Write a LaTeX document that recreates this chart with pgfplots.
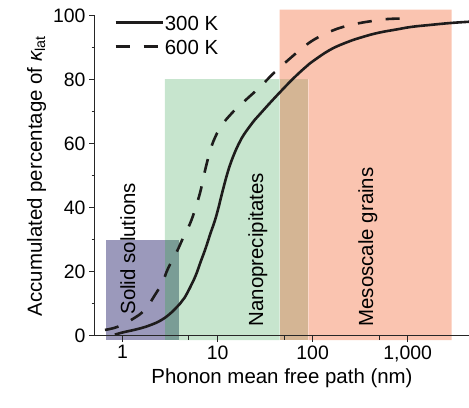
\documentclass[border=0pt]{standalone}
\usepackage{fontspec}
\setmainfont{Liberation Sans}
\usepackage{pgfplots}
\pgfplotsset{compat=1.18}

\definecolor{solidsol}{RGB}{155,153,187}
\definecolor{nanoprec}{RGB}{199,229,206}
\definecolor{mesograin}{RGB}{250,196,176}
\definecolor{solnano}{RGB}{122,157,150}
\definecolor{nanomeso}{RGB}{212,181,148}
\definecolor{curve}{RGB}{30,28,28}

\newcommand{\lblfont}{\fontsize{20.5}{24}\selectfont}
\newcommand{\tickfont}{\fontsize{19.5}{23}\selectfont}

\begin{document}
\begin{tikzpicture}
\path[use as bounding box] (0,0) rectangle (469bp,408bp);
\begin{axis}[
  at={(95bp,72bp)}, anchor=south west,
  scale only axis, width=374bp, height=320bp,
  xmode=log, xmin=0.513, xmax=4420,
  ymin=0, ymax=100,
  axis x line=bottom, axis y line=left,
  axis line style={-, line width=1bp, black!85},
  clip=false, axis on top,
  xtick={1,10,100,1000},
  xticklabels={1,10,100,{1,000}},
  minor xtick={5,50,500},
  ytick={0,20,40,60,80,100},
  minor ytick={10,30,50,70,90},
  tick align=outside,
  major tick length=6bp, minor tick length=3.5bp,
  every tick/.style={line width=1bp, black!85},
  /pgf/number format/assume math mode=true,
  tick label style={font=\tickfont},
  label style={font=\lblfont},
  xlabel={Phonon mean free path (nm)},
  ylabel={Accumulated percentage of {\itshape κ}\textsubscript{lat}},
  legend cell align=left,
  legend style={at={(0.051,1.002)}, anchor=north west, draw=none, fill=none,
    font=\lblfont, inner sep=0pt, row sep=3bp,
    nodes={inner sep=1bp, text height=14bp, text depth=5bp},
    /tikz/every even column/.append style={column sep=3bp}},
  legend image code/.code={\draw[#1] (0bp,0.35em) -- (47bp,0.35em);},
]
% shaded regions of the three scattering mechanisms
\addplot[fill=solidsol, draw=none, forget plot] coordinates {(0.667,-1.25) (2.79,-1.25) (2.79,30) (0.667,30)} -- cycle;
\addplot[fill=nanoprec, draw=none, forget plot] coordinates {(3.94,-1.25) (45,-1.25) (45,80.3) (2.79,80.3) (2.79,30) (3.94,30)} -- cycle;
\addplot[fill=solnano, draw=none, forget plot] coordinates {(2.79,-1.25) (3.94,-1.25) (3.94,30) (2.79,30)} -- cycle;
\addplot[fill=nanomeso, draw=none, forget plot] coordinates {(45,-1.25) (90,-1.25) (90,80.3) (45,80.3)} -- cycle;
\addplot[fill=mesograin, draw=none, forget plot] coordinates {(90,-1.25) (2900,-1.25) (2900,102) (45,102) (45,80.3) (90,80.3)} -- cycle;

\node[rotate=90, anchor=west, font=\lblfont] at (axis cs:1.137,5.6) {Solid solutions};
\node[rotate=90, anchor=west, font=\lblfont] at (axis cs:26.6,1.9) {Nanoprecipitates};
\node[rotate=90, anchor=west, font=\lblfont] at (axis cs:382,1.9) {Mesoscale grains};

% 300 K
\addplot[curve, line width=2.6bp, smooth, tension=0.7] coordinates {
 (0.83,0.4) (1.0,1.1) (1.5,2.3) (2.0,3.5) (2.5,4.8) (3.0,6.4) (3.5,8.2)
 (4.0,10.0) (4.5,12.0) (5.2,15.5) (5.9,19) (6.6,23) (7.5,27.5) (8.4,32)
 (9.35,36) (10.2,40) (11.1,44.4) (12.5,50.2) (13.8,54.2) (15.2,57.4)
 (16.6,59.9) (18,61.9) (19.9,63.9) (21.9,65.6) (24.7,67.6) (28,69.4)
 (35.5,72.8) (45.4,76.2) (53,78.3) (68,81.5)
 (86.5,84.3) (101,85.9) (152,89.4) (230,91.8) (341,93.5) (500,94.8)
 (766,95.8) (1100,96.6) (1718,97.2) (2800,97.8) (4420,98.2)};
\addlegendentry{300 K}
% 600 K
\addplot[curve, line width=2.6bp, smooth, tension=0.7, dash pattern=on 14bp off 14bp] coordinates {
 (0.653,1.9) (0.892,2.9) (1.278,5.3) (1.716,8.2) (2.19,12.8) (2.65,17.0)
 (3.0,21.0) (3.72,26.3) (4.31,30.5) (5.11,35) (5.77,39.4) (6.52,44.6)
 (7.0,48.6) (7.53,52.8) (8.3,57.6) (9.2,61.4) (10.6,65.0) (12.5,67.9)
 (14.6,70.1) (20.2,74.0) (27.9,77.8) (38.5,82.0) (53.2,85.8) (79.6,90.2) (106,92.8)
 (152,95.1) (210,96.6) (302,97.7) (417,98.4) (577,99.0) (830,99.2)};
\addlegendentry{600 K}
\end{axis}
\end{tikzpicture}
\end{document}
